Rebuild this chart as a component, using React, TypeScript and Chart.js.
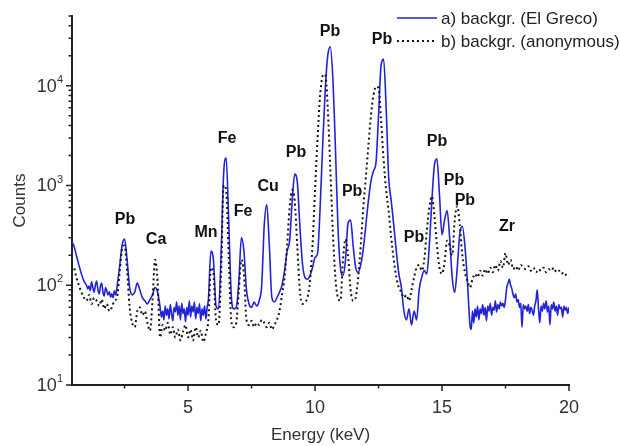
import React, { useEffect, useRef } from 'react';
import { Chart, registerables } from 'chart.js';

Chart.register(...registerables);

// Energy grid (keV) of spectrum a) – finer sampling in the noisy background stretches
const energyElGreco = [
  0.4, 0.5, 0.6, 0.7, 0.8, 0.9,
  1.0, 1.05, 1.1, 1.15, 1.2, 1.25, 1.3, 1.35, 1.4, 1.45,
  1.5, 1.55, 1.6, 1.65, 1.7, 1.75, 1.8, 1.85, 1.9, 1.95,
  2.0, 2.05, 2.1, 2.15, 2.2,
  2.3, 2.4, 2.5, 2.6, 2.7, 2.8, 2.9, 3.0, 3.1, 3.2,
  3.3, 3.4, 3.5, 3.6, 3.7, 3.8,
  3.9, 3.95, 4.0, 4.05, 4.1, 4.15, 4.2, 4.25, 4.3, 4.35,
  4.4, 4.45, 4.5, 4.55, 4.6, 4.65, 4.7, 4.75, 4.8, 4.85,
  4.9, 4.95, 5.0, 5.05, 5.1, 5.15, 5.2, 5.25, 5.3, 5.35,
  5.4, 5.45, 5.5, 5.55, 5.6, 5.65, 5.7, 5.75, 5.8,
  5.9, 6.0, 6.1, 6.2, 6.3,
  6.4, 6.5, 6.6, 6.7, 6.8, 6.9, 7.0, 7.1, 7.2, 7.3,
  7.4, 7.5, 7.6, 7.7, 7.8, 7.9, 8.0, 8.1, 8.2, 8.3,
  8.4, 8.5, 8.6, 8.7, 8.8, 8.9, 9.0, 9.1, 9.2, 9.3,
  9.4, 9.5, 9.6, 9.7, 9.8, 9.9, 10.0, 10.1, 10.2, 10.3,
  10.4, 10.5, 10.6, 10.7, 10.8, 10.9, 11.0, 11.1, 11.2, 11.3,
  11.4, 11.5, 11.6, 11.7, 11.8, 11.9, 12.0, 12.1, 12.2, 12.3,
  12.4, 12.5, 12.6, 12.7, 12.8, 12.9, 13.0, 13.1, 13.2, 13.3,
  13.4, 13.5, 13.6, 13.7, 13.8, 13.9, 14.0, 14.1, 14.2, 14.3,
  14.4, 14.5, 14.6, 14.7, 14.8, 14.9, 15.0, 15.1, 15.2, 15.3,
  15.4, 15.5, 15.6, 15.7, 15.8, 15.9, 16.0,
  16.1, 16.15, 16.2, 16.25, 16.3, 16.35, 16.4, 16.45, 16.5, 16.55,
  16.6, 16.65, 16.7, 16.75, 16.8, 16.85, 16.9, 16.95, 17.0, 17.05,
  17.1, 17.15, 17.2, 17.25, 17.3, 17.35, 17.4, 17.45, 17.5, 17.55,
  17.6, 17.65, 17.7, 17.75, 17.8, 17.85, 17.9, 17.95, 18.0, 18.05,
  18.1, 18.15, 18.2, 18.25, 18.3, 18.35, 18.4, 18.45, 18.5, 18.55,
  18.6, 18.65, 18.7, 18.75, 18.8, 18.85, 18.9, 18.95, 19.0, 19.05,
  19.1, 19.15, 19.2, 19.25, 19.3, 19.35, 19.4, 19.45, 19.5, 19.55,
  19.6, 19.65, 19.7, 19.75, 19.8, 19.85, 19.9, 19.95, 20.0,
];

const countsElGreco = [
  280, 250, 200, 160, 130, 110,
  100, 92, 98, 88, 108, 95, 85, 100, 110, 90,
  82, 98, 105, 85, 78, 95, 88, 80, 86, 76,
  82, 75, 88, 80, 95,
  150, 250, 290, 180, 95, 80, 85, 105, 90, 75,
  70, 65, 72, 80, 95, 85,
  60, 48, 55, 45, 62, 50, 58, 46, 64, 52,
  44, 60, 54, 68, 50, 62, 45, 66, 52, 58,
  43, 60, 50, 70, 48, 62, 54, 68, 46, 60,
  52, 65, 44, 58, 50, 62, 46, 60, 72,
  220, 180, 62, 58, 200,
  1300, 1900, 450, 80, 58, 60, 110, 300, 220, 90,
  65, 60, 68, 62, 70, 100, 400, 640, 250, 75,
  68, 75, 85, 100, 140, 220, 280, 700, 1300, 1100,
  400, 170, 120, 115, 125, 150, 190, 210, 600, 2500,
  9000, 20000, 24500, 12000, 2500, 400, 150, 125, 180, 420,
  450, 250, 150, 135, 160, 230, 400, 700, 1100, 1400,
  1700, 5000, 16000, 18500, 6000, 1200, 700, 400, 220, 130,
  95, 55, 45, 58, 40, 55, 45, 90, 120, 140,
  130, 250, 700, 1600, 1850, 800, 320, 450, 560, 300,
  120, 85, 150, 330, 390, 250, 110,
  40, 36, 55, 42, 58, 48, 62, 45, 58, 52,
  64, 50, 60, 44, 62, 55, 66, 50, 60, 56,
  70, 54, 64, 58, 68, 62, 66, 60, 72, 95,
  105, 115, 100, 92, 80, 75, 82, 68, 72, 60,
  66, 38, 64, 58, 62, 55, 64, 52, 60, 56,
  50, 62, 70, 90, 58, 42, 62, 55, 66, 58,
  70, 54, 62, 40, 64, 58, 68, 55, 62, 50,
  64, 58, 60, 48, 62, 56, 60, 52, 60,
];

// Energy grid (keV) of spectrum b)
const energyAnonymous = [
  0.4, 0.5, 0.6, 0.7, 0.8, 0.9, 1.0, 1.1, 1.2, 1.3,
  1.4, 1.5, 1.6, 1.7, 1.8, 1.9, 2.0, 2.1, 2.2, 2.3,
  2.4, 2.5, 2.6, 2.7, 2.8, 2.9, 3.0, 3.1, 3.2, 3.3,
  3.4, 3.5, 3.6, 3.7, 3.8, 3.9, 4.0, 4.1, 4.2, 4.3,
  4.4, 4.5, 4.6, 4.7, 4.8, 4.9, 5.0, 5.1, 5.2, 5.3,
  5.4, 5.5, 5.6, 5.7, 5.8, 5.9, 6.0, 6.1, 6.2, 6.3,
  6.4, 6.5, 6.6, 6.7, 6.8, 6.9, 7.0, 7.1, 7.2, 7.3,
  7.4, 7.5, 7.6, 7.7, 7.8, 7.9, 8.0, 8.1, 8.2, 8.3,
  8.4, 8.5, 8.6, 8.7, 8.8, 8.9, 9.0, 9.1, 9.2, 9.3,
  9.4, 9.5, 9.6, 9.7, 9.8, 9.9, 10.0, 10.1, 10.2, 10.3,
  10.4, 10.5, 10.6, 10.7, 10.8, 10.9, 11.0, 11.1, 11.2, 11.3,
  11.4, 11.5, 11.6, 11.7, 11.8, 11.9, 12.0, 12.1, 12.2, 12.3,
  12.4, 12.5, 12.6, 12.7, 12.8, 12.9, 13.0, 13.1, 13.2, 13.3,
  13.4, 13.5, 13.6, 13.7, 13.8, 13.9, 14.0, 14.1, 14.2, 14.3,
  14.4, 14.5, 14.6, 14.7, 14.8, 14.9, 15.0, 15.1, 15.2, 15.3,
  15.4, 15.5, 15.6, 15.7, 15.8, 15.9, 16.0, 16.1, 16.2, 16.3,
  16.4, 16.5, 16.6, 16.7, 16.8, 16.9, 17.0, 17.1, 17.2, 17.3,
  17.4, 17.5, 17.6, 17.7, 17.8, 17.9, 18.0, 18.1, 18.2, 18.3,
  18.4, 18.5, 18.6, 18.7, 18.8, 18.9, 19.0, 19.1, 19.2, 19.3,
  19.4, 19.5, 19.6, 19.7, 19.8, 19.9, 20.0,
];

const countsAnonymous = [
  140, 150, 120, 100, 85, 75, 70, 80, 65, 75,
  70, 62, 72, 58, 65, 55, 60, 70, 75, 130,
  230, 250, 140, 60, 42, 38, 55, 60, 50, 55,
  42, 35, 70, 180, 110, 30, 40, 35, 42, 32,
  38, 30, 36, 28, 34, 40, 30, 36, 28, 38,
  30, 35, 27, 33, 45, 150, 130, 45, 40, 130,
  1000, 900, 200, 45, 38, 42, 90, 180, 130, 45,
  40, 44, 38, 42, 40, 45, 42, 38, 42, 36,
  40, 45, 55, 80, 120, 250, 600, 900, 700, 250,
  90, 65, 68, 75, 110, 250, 900, 3000, 8000, 12500,
  13000, 6000, 1500, 350, 120, 75, 70, 180, 290, 200,
  90, 70, 75, 120, 250, 600, 1200, 2500, 5000, 8000,
  9800, 9500, 4500, 1800, 900, 550, 300, 180, 120, 95,
  85, 75, 80, 70, 90, 120, 150, 160, 140, 180,
  350, 600, 780, 500, 250, 150, 130, 170, 280, 250,
  200, 450, 620, 400, 200, 135, 110, 95, 115, 130,
  120, 140, 125, 145, 130, 150, 135, 160, 140, 175,
  150, 210, 160, 180, 145, 155, 140, 160, 150, 145,
  155, 140, 150, 135, 145, 140, 150, 135, 145, 140,
  150, 135, 140, 130, 135, 125, 120,
];

const seriesNames = ['a) backgr. (El Greco)', 'b) backgr. (anonymous)'];

const xTickValues = [5, 10, 15, 20];
const xMinorTickValues = [2.5, 7.5, 12.5, 17.5];
const yTickValues = [10, 100, 1000, 10000];
const yTickExponents = ['1', '2', '3', '4'];
const yMinorTickValues = [
  20, 30, 40, 50, 60, 70, 80, 90,
  200, 300, 400, 500, 600, 700, 800, 900,
  2000, 3000, 4000, 5000, 6000, 7000, 8000, 9000,
  20000, 30000, 40000, 50000,
];

const peakLabels = ['Pb', 'Ca', 'Mn', 'Fe', 'Fe', 'Cu', 'Pb', 'Pb', 'Pb', 'Pb', 'Pb', 'Pb', 'Pb', 'Pb', 'Zr'];
const peakLabelEnergy = [2.52, 3.74, 5.71, 6.54, 7.17, 8.15, 9.25, 10.59, 11.46, 12.64, 13.9, 14.8, 15.47, 15.9, 17.56];
const peakLabelCounts = [457, 288, 339, 2950, 550, 977, 2140, 34700, 871, 28800, 302, 2750, 1120, 708, 389];

const FONT = 'Arial, "Liberation Sans", sans-serif';
const BLUE = '#2222d6';
const DOT = '#151515';

const overlayPlugin = {
  id: 'overlay',
  afterDraw(chart: any) {
    const ctx = chart.ctx as CanvasRenderingContext2D;
    const xs = chart.scales.x;
    const ys = chart.scales.y;
    const left = xs.left;
    const bottom = ys.bottom;
    ctx.save();
    // tick marks
    ctx.strokeStyle = '#222';
    ctx.lineWidth = 1.5;
    ctx.beginPath();
    xTickValues.forEach((v) => {
      const p = xs.getPixelForValue(v);
      ctx.moveTo(p, bottom);
      ctx.lineTo(p, bottom + 6);
    });
    xMinorTickValues.forEach((v) => {
      const p = xs.getPixelForValue(v);
      ctx.moveTo(p, bottom);
      ctx.lineTo(p, bottom + 3.5);
    });
    yTickValues.forEach((v) => {
      const p = ys.getPixelForValue(v);
      ctx.moveTo(left, p);
      ctx.lineTo(left - 6, p);
    });
    yMinorTickValues.forEach((v) => {
      const p = ys.getPixelForValue(v);
      ctx.moveTo(left, p);
      ctx.lineTo(left - 3.5, p);
    });
    ctx.stroke();

    // y tick labels 10^n
    ctx.fillStyle = '#333';
    ctx.textBaseline = 'middle';
    yTickValues.forEach((v, i) => {
      const p = ys.getPixelForValue(v);
      const exp = yTickExponents[i];
      const right = left - 9;
      ctx.font = `11px ${FONT}`;
      const ew = ctx.measureText(exp).width;
      ctx.textAlign = 'left';
      ctx.fillText(exp, right - ew, p - 6);
      ctx.font = `18px ${FONT}`;
      ctx.textAlign = 'right';
      ctx.fillText('10', right - ew, p + 1);
    });

    // peak labels
    ctx.fillStyle = '#111';
    ctx.font = `bold 16px ${FONT}`;
    ctx.textAlign = 'center';
    ctx.textBaseline = 'middle';
    peakLabels.forEach((t, i) => {
      ctx.fillText(t, xs.getPixelForValue(peakLabelEnergy[i]), ys.getPixelForValue(peakLabelCounts[i]));
    });

    // legend
    const lx0 = 397;
    const lx1 = 437;
    const tx = 441;
    const ly = [18, 41];
    ctx.lineWidth = 1.6;
    ctx.strokeStyle = BLUE;
    ctx.setLineDash([]);
    ctx.beginPath();
    ctx.moveTo(lx0, ly[0]);
    ctx.lineTo(lx1, ly[0]);
    ctx.stroke();
    ctx.strokeStyle = DOT;
    ctx.lineWidth = 2;
    ctx.setLineDash([2, 3]);
    ctx.beginPath();
    ctx.moveTo(lx0, ly[1]);
    ctx.lineTo(lx1, ly[1]);
    ctx.stroke();
    ctx.setLineDash([]);
    ctx.fillStyle = '#222';
    ctx.font = `17px ${FONT}`;
    ctx.textAlign = 'left';
    ctx.textBaseline = 'middle';
    seriesNames.forEach((n, i) => ctx.fillText(n, tx, ly[i] + 1));
    ctx.restore();
  },
};

export default function App() {
  const ref = useRef<HTMLCanvasElement | null>(null);

  useEffect(() => {
    const canvas = ref.current;
    if (!canvas) return;
    const chart = new Chart(canvas, {
      type: 'line',
      data: {
        datasets: [
          {
            label: seriesNames[0],
            data: energyElGreco.map((e, i) => ({ x: e, y: countsElGreco[i] })),
            borderColor: BLUE,
            borderWidth: 1.6,
            pointRadius: 0,
            cubicInterpolationMode: 'monotone',
            fill: false,
            order: 1,
          },
          {
            label: seriesNames[1],
            data: energyAnonymous.map((e, i) => ({ x: e, y: countsAnonymous[i] })),
            borderColor: DOT,
            borderWidth: 2,
            borderDash: [2, 3],
            pointRadius: 0,
            cubicInterpolationMode: 'monotone',
            fill: false,
            order: 0,
          },
        ],
      },
      options: {
        responsive: false,
        animation: false,
        devicePixelRatio: 1,
        layout: { padding: { left: 8, top: 16, right: 51, bottom: 0 } },
        plugins: { legend: { display: false }, tooltip: { enabled: false } },
        scales: {
          x: {
            type: 'linear',
            min: 0.43,
            max: 20,
            grid: { display: false, drawTicks: false },
            border: { display: true, color: '#222', width: 2 },
            afterBuildTicks: (s: any) => {
              s.ticks = xTickValues.map((v) => ({ value: v }));
            },
            ticks: {
              color: '#333',
              font: { size: 18, family: FONT },
              padding: 12,
              maxRotation: 0,
              autoSkip: false,
            },
            title: {
              display: true,
              text: 'Energy (keV)',
              color: '#333',
              font: { size: 17, family: FONT },
              padding: { top: 0, bottom: 0 },
            },
            afterFit: (s: any) => {
              s.height = 61;
            },
          },
          y: {
            type: 'logarithmic',
            min: 10,
            max: 50000,
            grid: { display: false, drawTicks: false },
            border: { display: true, color: '#222', width: 2 },
            ticks: { display: false },
            title: {
              display: true,
              text: 'Counts',
              color: '#333',
              font: { size: 17, family: FONT },
              padding: { top: 2, bottom: 0 },
            },
            afterFit: (s: any) => {
              s.width = 64;
            },
          },
        },
      },
      plugins: [overlayPlugin],
    } as any);
    return () => chart.destroy();
  }, []);

  return (
    <div style={{ position: 'absolute', left: 0, top: 0, width: 620, height: 446, background: '#fff' }}>
      <canvas ref={ref} width={620} height={446} style={{ display: 'block' }} />
    </div>
  );
}
